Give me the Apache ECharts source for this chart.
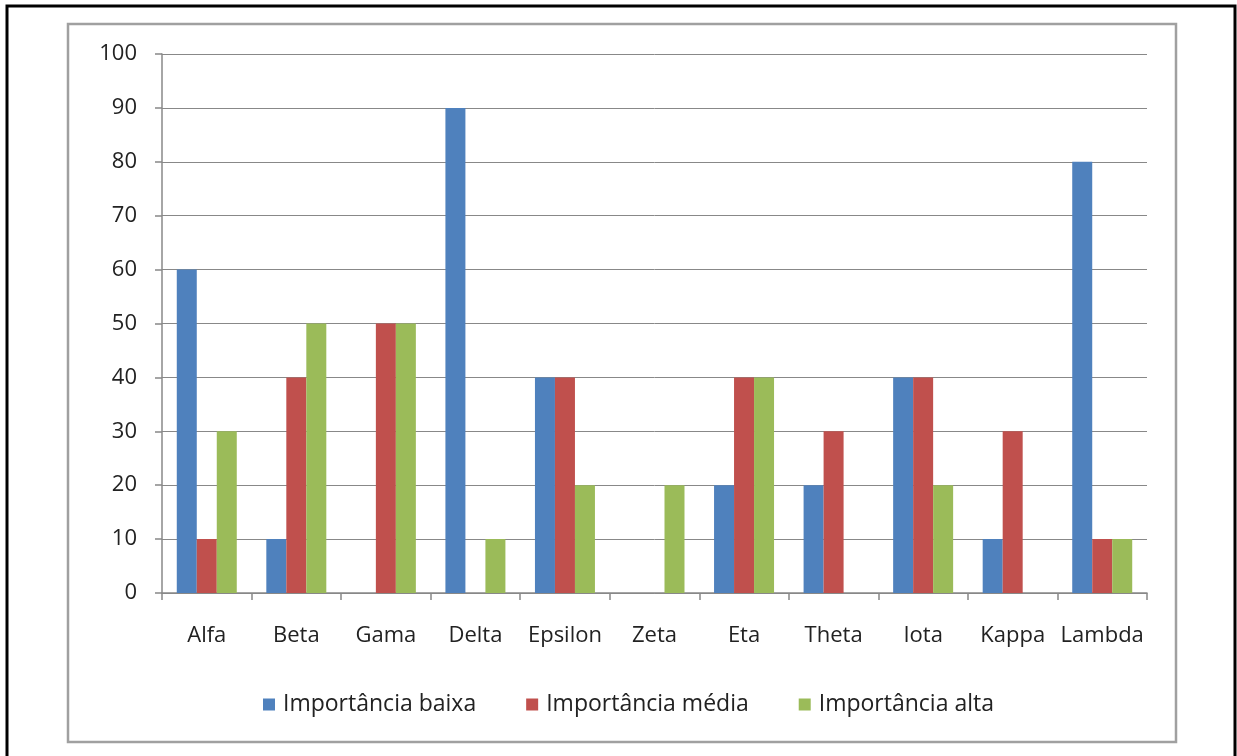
<!DOCTYPE html>
<html><head><meta charset="utf-8">
<script src="https://cdn.jsdelivr.net/npm/echarts@6/dist/echarts.min.js"></script>
<style>html,body{margin:0;padding:0;background:#fff}#c{width:1237px;height:756px}</style>
</head><body><div id="c"></div>
<script>
var categories = ['Alfa','Beta','Gama','Delta','Epsilon','Zeta','Eta','Theta','Iota','Kappa','Lambda'];
var seriesNames = ['Importância baixa','Importância média','Importância alta'];
var baixa = [60,10,0,90,40,0,20,20,40,10,80];
var media = [10,40,50,0,40,0,40,30,40,30,10];
var alta  = [30,50,50,10,20,20,40,0,20,0,10];
var colors = ['#4F81BD','#C0504D','#9BBB59'];
var font = '"Open Sans", "Noto Sans", sans-serif';
var chart = echarts.init(document.getElementById('c'), null, {renderer:'canvas'});
chart.setOption({
  animation:false,
  backgroundColor:'#fff',
  color:colors,
  graphic:[
    {type:'rect', shape:{x:7,y:6,width:1228,height:780}, style:{fill:null, stroke:'#000', lineWidth:3}},
    {type:'rect', shape:{x:68,y:24,width:1108,height:718}, style:{fill:null, stroke:'#a0a0a0', lineWidth:2.5}}
  ],
  grid:{left:162,right:90,top:54,bottom:163,containLabel:false},
  legend:{
    data:seriesNames, bottom:35, left:258, itemWidth:12, itemHeight:12, itemGap:50,
    icon:'rect',
    textStyle:{fontFamily:font,fontSize:23,color:'#222',padding:[0,0,0,3]}
  },
  xAxis:{
    type:'category', data:categories,
    axisLine:{lineStyle:{color:'#888',width:1.5}},
    axisTick:{show:true,length:7,lineStyle:{color:'#888',width:1.5},alignWithLabel:false},
    axisLabel:{interval:0,fontFamily:font,fontSize:22,color:'#222',margin:32}
  },
  yAxis:{
    type:'value', min:0, max:100, interval:10,
    axisLine:{show:true,lineStyle:{color:'#888',width:1.5}},
    axisTick:{show:true,length:7,lineStyle:{color:'#888',width:1.5}},
    splitLine:{lineStyle:{color:'#888',width:1}},
    axisLabel:{fontFamily:font,fontSize:22,color:'#222',margin:25}
  },
  series:[
    {name:seriesNames[0],type:'bar',data:baixa,barGap:'0%',barCategoryGap:'33%'},
    {name:seriesNames[1],type:'bar',data:media,barGap:'0%',barCategoryGap:'33%'},
    {name:seriesNames[2],type:'bar',data:alta,barGap:'0%',barCategoryGap:'33%'}
  ]
});
</script></body></html>
